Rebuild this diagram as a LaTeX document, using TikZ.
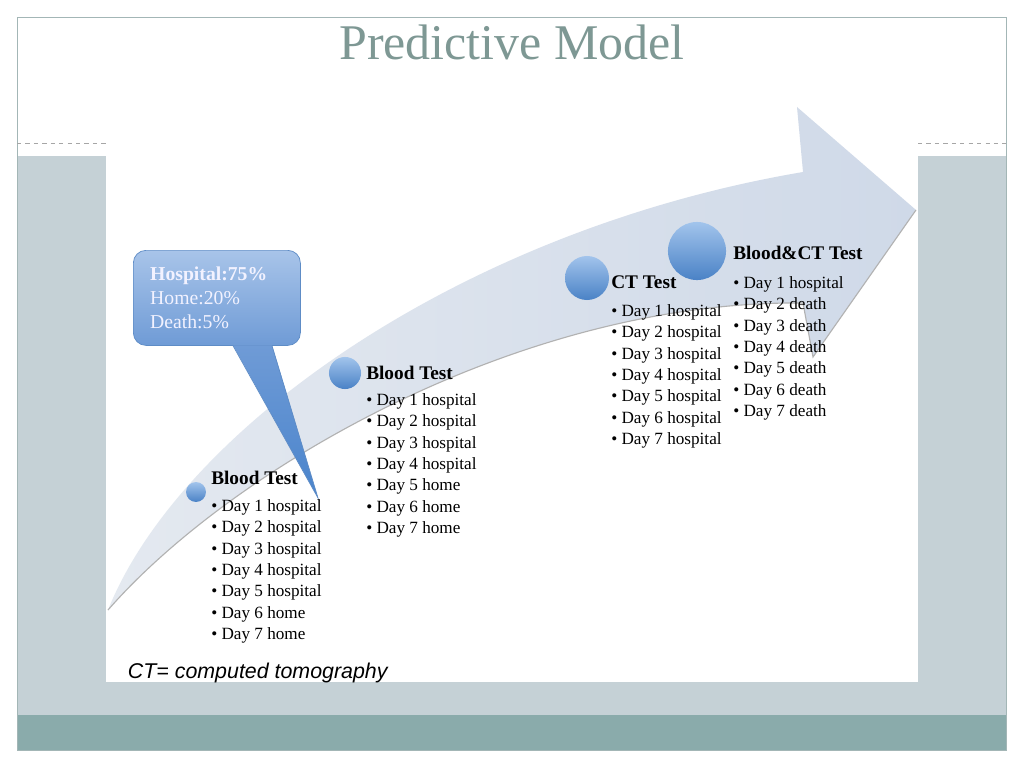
\documentclass[tikz,border=0pt]{standalone}
\usepackage{fontspec}
\setmainfont{Liberation Serif}
\newfontfamily\arialfont{Liberation Sans}
\usetikzlibrary{matrix,positioning,calc}
\definecolor{slidegray}{HTML}{C5D1D6}
\definecolor{slideteal}{HTML}{8AABAB}
\definecolor{framegray}{HTML}{A3B6B6}
\definecolor{titlecol}{HTML}{7E9894}
\definecolor{arrowlight}{HTML}{E4E9F0}
\definecolor{arrowdark}{HTML}{CFD9E8}
\definecolor{balltop}{HTML}{A2C4EC}
\definecolor{ballbot}{HTML}{4A82C6}
\definecolor{calltop}{HTML}{A8C4E9}
\definecolor{callbot}{HTML}{6F9BD6}
\definecolor{callline}{HTML}{5E8CC6}
\definecolor{tiptone}{HTML}{4A84CC}
\newcommand{\itm}[1]{\textbullet\ Day #1}

\begin{document}
\begin{tikzpicture}[x=0.025cm,y=-0.025cm,
list/.style={matrix of nodes,anchor=north west,inner sep=0pt,row sep=1.7pt,
  nodes={anchor=base west,inner sep=0pt,text height=10pt,text depth=3.5pt,
  font=\fontsize{12.2}{14}\selectfont}},
head/.style={font=\fontsize{13.7}{16}\selectfont\bfseries},
bubble/.style={circle,inner sep=0pt,minimum size=#1,top color=balltop,bottom color=ballbot},
callout/.style={anchor=north west,rounded corners=9pt,top color=calltop,bottom color=callbot,
  draw=callline,line width=0.5pt,
  minimum width=118.8pt,minimum height=67.6pt,inner xsep=12pt,text width=94.8pt,align=left,
  text=white!95!blue,font=\fontsize{14}{17}\selectfont}]
\useasboundingbox (0,0) rectangle (1024,768);
\fill[white] (0,0) rectangle (1024,768);
% slide frame
\fill[slidegray] (17,156) rectangle (1006,715);
\fill[slideteal] (17,715) rectangle (1006,750);
\fill[white] (106,100) rectangle (918,682);
\draw[framegray] (17,17) rectangle (1006,750);
\draw[gray!70,dashed,line width=0.4pt] (17,143) -- (106,143) (918,143) -- (1006,143);
\node[anchor=base,text=titlecol,font=\fontsize{35.5}{40}\selectfont] (title) at (512,60) {Predictive Model};
% arrow
\path[left color=arrowlight,right color=arrowdark]
  (108,610) .. controls (180,430) and (460,230) .. (803,172) -- (797,107) -- (916,210)
  -- (813,357) -- (803,303) .. controls (520,300) and (230,470) .. (108,610) -- cycle;
\draw[gray!60,line width=0.8pt] (108,610) .. controls (230,470) and (520,300) .. (803,303)
  -- (813,357) -- (916,210);
% callout
\coordinate (tip) at (318,498);
\node[callout] (call) at (133,250) {\textbf{Hospital:75\%}\\Home:20\%\\Death:5\%};
\path[top color=callbot,bottom color=tiptone]
  ($(call.south west)+(100,-0.5)$) -- ($(call.south west)+(139,-0.5)$) -- (tip) -- cycle;
\draw[callline,line width=0.5pt] ($(call.south west)+(100,0)$) -- (tip) -- ($(call.south west)+(139,0)$);
% steps
\node[bubble=14.2pt] (b1) at (196,492) {};
\node[bubble=22.8pt] (b2) at (345,373) {};
\node[bubble=31.3pt] (b3) at (587,278) {};
\node[bubble=41.3pt] (b4) at (697,251) {};
\matrix (blood1) [list] at (211,470) {
|[head]| Blood Test \\[4pt]
\itm{1 hospital} \\
\itm{2 hospital} \\
\itm{3 hospital} \\
\itm{4 hospital} \\
\itm{5 hospital} \\
\itm{6 home} \\
\itm{7 home} \\
};
\matrix (blood2) [list] at (366,365) {
|[head]| Blood Test \\[3.3pt]
\itm{1 hospital} \\
\itm{2 hospital} \\
\itm{3 hospital} \\
\itm{4 hospital} \\
\itm{5 home} \\
\itm{6 home} \\
\itm{7 home} \\
};
\matrix (ct) [list] at (611,274) {
|[head]| CT Test \\[4.7pt]
\itm{1 hospital} \\
\itm{2 hospital} \\
\itm{3 hospital} \\
\itm{4 hospital} \\
\itm{5 hospital} \\
\itm{6 hospital} \\
\itm{7 hospital} \\
};
\matrix (bloodct) [list] at (733,245) {
|[head]| Blood\&CT Test \\[5.4pt]
\itm{1 hospital} \\
\itm{2 death} \\
\itm{3 death} \\
\itm{4 death} \\
\itm{5 death} \\
\itm{6 death} \\
\itm{7 death} \\
};
\node[anchor=base west,font=\arialfont\itshape\fontsize{15.2}{18}\selectfont] (note) at (123,678)
  {CT= computed tomography};
\end{tikzpicture}
\end{document}
